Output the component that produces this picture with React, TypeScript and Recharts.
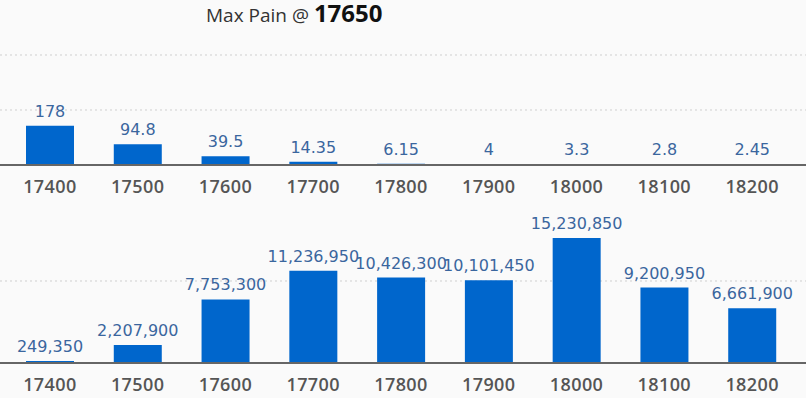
import React from 'react';
import { BarChart, Bar, XAxis, YAxis, CartesianGrid, LabelList } from 'recharts';

// strike prices shared by both panels
const strikes = ['17400', '17500', '17600', '17700', '17800', '17900', '18000', '18100', '18200'];
// premium per strike (top panel)
const premium = [178, 94.8, 39.5, 14.35, 6.15, 4, 3.3, 2.8, 2.45];
// pain value per strike (bottom panel)
const pain = [249350, 2207900, 7753300, 11236950, 10426300, 10101450, 15230850, 9200950, 6661900];

const maxPainStrike = '17650';

const topData = strikes.map((s, i) => ({ strike: s, value: premium[i] }));
const bottomData = strikes.map((s, i) => ({ strike: s, value: pain[i] }));

const FONT = '"Open Sans", sans-serif';
const LABEL_FONT = '"DejaVu Sans", Verdana, sans-serif';
const BAR_COLOR = '#0066cc';
const LABEL_COLOR = '#3a669e';

interface PanelProps {
    data: { strike: string; value: number }[];
    height: number;
    domainMax: number;
    gridValues: number[];
    format?: (v: number) => string;
}

function Panel({ data, height, domainMax, gridValues, format }: PanelProps) {
    return (
        <BarChart width={806} height={height} data={data} margin={{ top: 0, right: 0, bottom: 0, left: 0 }}>
            <CartesianGrid
                vertical={false}
                horizontalValues={gridValues}
                stroke="#cfcfcf"
                strokeDasharray="2 3"
            />
            <YAxis hide domain={[0, domainMax]} />
            <XAxis
                dataKey="strike"
                height={35}
                padding={{ left: 6, right: 10 }}
                tickLine={false}
                tickSize={13}
                tickMargin={2}
                axisLine={{ stroke: '#666', strokeWidth: 2 }}
                tick={{ fill: '#555', fontSize: 18, fontWeight: 600, fontFamily: FONT, letterSpacing: 0.4 }}
                interval={0}
            />
            <Bar dataKey="value" fill={BAR_COLOR} barSize={48} isAnimationActive={false}>
                <LabelList
                    dataKey="value"
                    position="top"
                    offset={9}
                    fill={LABEL_COLOR}
                    fontSize={16}
                    fontFamily={LABEL_FONT}
                    formatter={(v: any) => (format ? format(Number(v)) : String(v))}
                />
            </Bar>
        </BarChart>
    );
}

export default function App() {
    return (
        <div style={{ position: 'absolute', left: 0, top: 0, width: 806, height: 398, background: '#fafafa', overflow: 'hidden', fontFamily: FONT }}>
            <div style={{ position: 'absolute', left: 0, top: 0 }}>
                <Panel data={topData} height={200} domainMax={750} gridValues={[250, 500]} />
            </div>
            <div style={{ position: 'absolute', left: 0, top: 199 }}>
                <Panel
                    data={bottomData}
                    height={199}
                    domainMax={20000000}
                    gridValues={[10000000]}
                    format={(v) => v.toLocaleString('en-US')}
                />
            </div>
            <div style={{ position: 'absolute', left: 206, top: 0, height: 30, lineHeight: '26px', whiteSpace: 'nowrap' }}>
                <span style={{ fontSize: 19, color: '#333' }}>Max Pain @ </span>
                <span style={{ fontSize: 24, fontWeight: 700, color: '#111' }}>{maxPainStrike}</span>
            </div>
        </div>
    );
}
